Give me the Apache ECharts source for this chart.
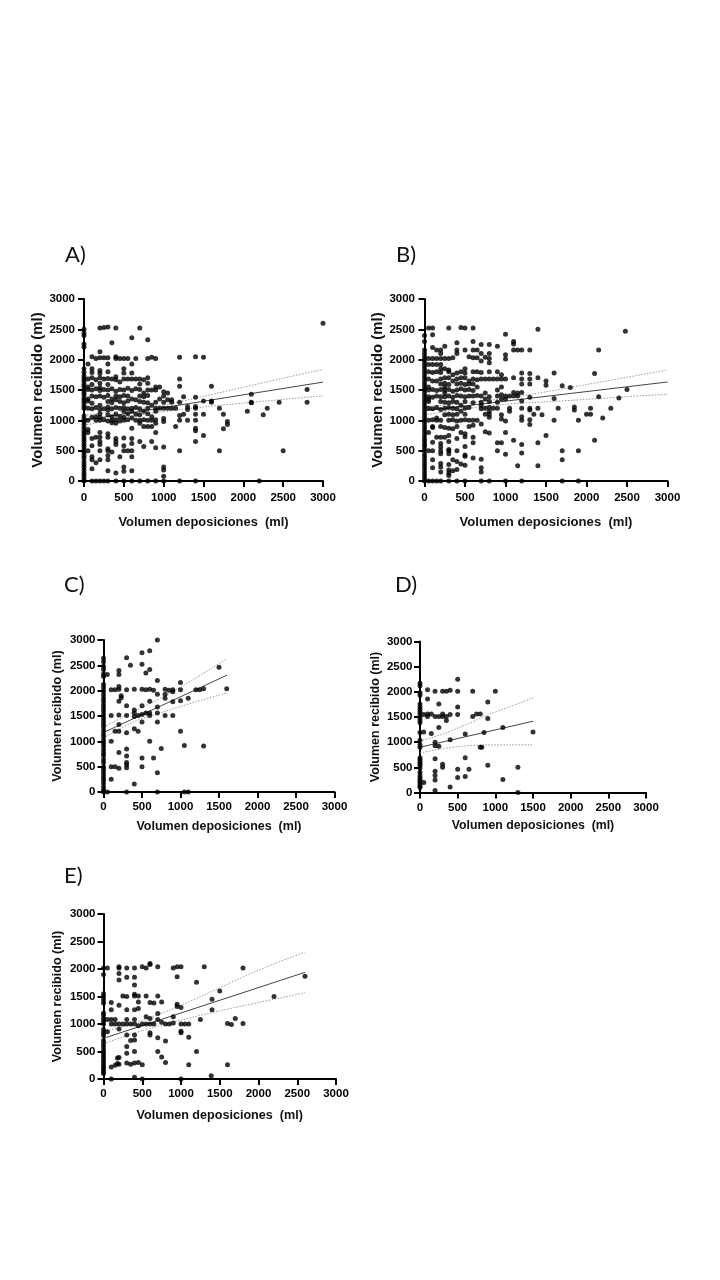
<!DOCTYPE html>
<html><head><meta charset="utf-8">
<style>html,body{margin:0;padding:0;background:#fff}#c{width:720px;height:1280px}</style>
<script src="https://cdn.jsdelivr.net/npm/echarts@6/dist/echarts.min.js"></script>
</head><body><div id="c"></div>
<script>
const tickMax = 3000, tickStep = 500;
const xTitle = 'Volumen deposiciones  (ml)';
const yTitle = 'Volumen recibido (ml)';

// Each row: [volumen deposiciones, [volumen recibido...]]
const columnsA = [
[0,[0,40,90,130,180,230,270,320,380,420,470,520,570,610,660,700,750,790,830,880,930,980,1020,1070,1200,1240,1290,1330,1370,1420,1460,1510,1560,1600,1650,1690,1730,1790,1850,2210,2260,2400,2440,2500]],
[50,[500,800,850,1000,1200,1320,1350,1510,1550,1680,1930]],
[100,[0,200,350,400,580,700,1050,1190,1280,1400,1500,1590,1700,1790,1850,2050]],
[150,[0,300,720,1000,1060,1210,1390,1520,1670,2020]],
[200,[0,350,500,600,650,720,800,1000,1050,1110,1180,1250,1400,1490,1540,1610,1700,1770,1820,2030,2130,2520]],
[250,[0,1010,1190,1380,1510,1680,2030,2530]],
[300,[0,170,350,420,500,530,720,780,990,1090,1170,1220,1310,1410,1500,1590,1690,1800,1930,2030,2540]],
[350,[480,960,1000,1060,1190,1290,1350,1520,1680,2280]],
[400,[0,130,600,650,700,950,1010,1100,1210,1340,1400,1480,1670,1720,2020,2050,2520]],
[450,[400,990,1060,1200,1310,1390,1510,1630,2020]],
[500,[0,160,230,500,580,710,1000,1050,1150,1210,1290,1410,1500,1680,1780,1850,2020]],
[550,[500,1010,1110,1190,1320,1400,1530,1680,2020]],
[600,[0,170,400,500,620,700,870,1040,1150,1200,1350,1490,1680,1780,1930,2360]],
[650,[1000,1100,1210,1340,1520,1680,2020]],
[700,[0,650,950,1000,1090,1190,1310,1400,1510,1600,1680,2520]],
[750,[570,900,1010,1150,1300,1390,1450,1670]],
[800,[0,900,1000,1110,1200,1290,1410,1500,1610,1700,2020,2330]],
[850,[650,900,1000,1060,1250,1500,2040]],
[900,[0,550,800,950,1010,1150,1200,1300,1500,1550,2020]],
[950,[1200,1350,1550]],
[1000,[0,80,180,230,560,980,1030,1200,1300,1400,1470]],
[1050,[1200,1340,1450]],
[1100,[1200,1300,1340]],
[1150,[900,1200]],
[1200,[0,500,1000,1080,1300,1560,1680,2040]],
[1250,[1100,1390]],
[1300,[1000,1180,1230]],
[1400,[0,650,830,870,1000,1100,1200,1230,1380,2050]],
[1500,[750,1100,1320,2040]],
[1600,[1300,1320,1560]],
[1700,[500,1200]],
[1750,[860,1100]],
[1800,[930,980]],
[2050,[1150]],
[2100,[1290,1300,1430]],
[2200,[0]],
[2250,[1090]],
[2300,[1200]],
[2450,[1300]],
[2500,[500]],
[2800,[1300,1510]],
[3000,[2600]]
];
const fitA = [[0,1000],[3000,1630]];
const upperA = [[0,1085],[500,1160],[1000,1250],[1500,1395],[2000,1545],[2500,1695],[3000,1840]];
const lowerA = [[0,915],[500,1050],[1000,1145],[1500,1220],[2000,1285],[2500,1345],[3000,1405]];

const columnsB = [
[0,[0,50,100,150,200,250,300,350,400,450,520,570,610,660,700,750,800,850,900,950,1000,1050,1100,1150,1200,1250,1300,1350,1400,1450,1500,1550,1600,1650,1700,1750,1800,1850,1900,1950,2000,2050,2100,2160,2300,2400]],
[50,[0,500,800,1000,1200,1310,1350,1390,1500,1550,1680,1800,1920,2020,2520]],
[100,[0,220,350,500,640,880,900,1010,1190,1380,1510,1650,1790,1920,2020,2200,2410,2520]],
[150,[0,720,1000,1040,1210,1400,1490,1650,1800,1920,2020,2160]],
[200,[0,150,230,290,450,500,560,620,720,900,1000,1180,1310,1390,1510,1600,1680,1790,1850,1920,2020,2100,2160]],
[250,[720,880,1090,1200,1300,1390,1450,1500,1550,1610,1700,1850,2020,2220]],
[300,[0,90,130,180,270,450,500,520,650,750,870,1000,1100,1210,1290,1400,1510,1590,1700,1800,1830,2020,2520]],
[350,[170,350,860,1010,1090,1200,1310,1380,1480,1650,1750,2030]],
[400,[0,190,320,500,700,900,990,1100,1190,1300,1410,1500,1600,1680,1780,2100,2160,2280]],
[450,[280,800,1000,1150,1250,1400,1520,1610,1700,1800,2530]],
[500,[0,260,410,430,570,730,780,1010,1100,1200,1310,1390,1500,1590,1700,1780,1850,2160,2520]],
[550,[900,1000,1210,1400,1510,1600,1650,2050]],
[600,[380,630,720,920,1000,1290,1400,1490,1600,1680,1800,2030,2160,2300,2520]],
[650,[1000,1410,1550,1670,1800,2030,2160]],
[700,[0,150,220,360,940,1190,1250,1300,1400,1680,1790,1980,2100,2250]],
[750,[810,1100,1200,1350,1450,1680,2040]],
[800,[0,790,1050,1100,1150,1210,1310,1390,1680,1800,1950,2020,2100,2250]],
[850,[1200,1680]],
[900,[500,630,1200,1300,1400,1500,1680,1800,2220]],
[950,[630,1020,1090,1350,1420,1550,1680,1750]],
[1000,[0,440,800,990,1350,1400,1680,2010,2080,2420]],
[1050,[1150,1200,1400]],
[1100,[670,1400,1460,1700,2160,2260,2300]],
[1150,[250,1400,1450,2160]],
[1200,[0,460,600,1000,1060,1200,1320,1460,1600,1680,1780,2160]],
[1300,[930,1010,1170,1200,1380,1600,1680,1770,2160]],
[1350,[1100]],
[1400,[250,630,1200,1700,2500]],
[1450,[1090]],
[1500,[750,1580,1650]],
[1600,[1000,1360,1780]],
[1650,[1200]],
[1700,[0,350,500,1570]],
[1800,[1540]],
[1850,[1170,1220]],
[1900,[0,500,1000]],
[2000,[1100]],
[2050,[1100,1200]],
[2100,[670,1770]],
[2150,[1390,2160]],
[2200,[1040]],
[2300,[1200]],
[2400,[1370]],
[2480,[2470]],
[2500,[1510]]
];
const fitB = [[0,1158],[3000,1632]];
const upperB = [[0,1225],[500,1280],[1000,1365],[1500,1470],[2000,1590],[2500,1710],[3000,1830]];
const lowerB = [[0,1090],[500,1190],[1000,1265],[1500,1305],[2000,1345],[2500,1390],[3000,1430]];

const columnsC = [
[0,[0,40,100,170,230,280,340,400,460,500,580,640,720,770,830,900,960,1020,1090,1150,1220,1290,1340,1400,1460,1530,1600,1660,1720,1790,1850,1920,1990,2060,2120,2280,2330,2420,2480,2570,2640]],
[50,[0,2320]],
[100,[250,500,1000,1510,2020]],
[150,[500,1200,2020]],
[200,[470,780,1200,1330,1520,1790,2030,2080,2320,2400]],
[230,[1860,1900]],
[300,[0,480,540,580,710,850,1170,1510,1700,2020,2650]],
[350,[2500]],
[400,[160,1250,1490,1560,1620,2030]],
[450,[1200,1510]],
[500,[500,670,1380,1530,1700,2030,2520,2750]],
[550,[1560,2020,2350]],
[600,[1000,1510,1560,1790,2030,2420,2790]],
[650,[670,2010]],
[700,[0,380,1380,1560,1680,1930,2200,3000]],
[750,[860]],
[800,[1510,1850,1930,2030]],
[850,[2010]],
[900,[1510,1780,1980,2020]],
[1000,[1200,1800,2020,2160]],
[1050,[0,920]],
[1100,[0,1850]],
[1200,[2020]],
[1250,[2020]],
[1300,[910,2040]],
[1500,[2460]],
[1600,[2040]]
];
const fitC = [[0,1174],[1607,2308]];
const upperC = [[0,1285],[400,1590],[800,1900],[1200,2250],[1607,2637]];
const lowerC = [[0,1070],[400,1390],[800,1590],[1200,1780],[1607,1958]];

const columnsD = [
[0,[100,130,170,210,250,290,340,400,480,530,570,610,650,690,900,950,1040,1190,1390,1440,1490,1550,1600,1650,1700,1760,1930,1980,2120,2170]],
[50,[200,1200,1550]],
[100,[1510,1560,1860,2040]],
[150,[1170,1560]],
[200,[40,250,340,420,670,930,1000,1510,2010]],
[250,[920,1290,1510,1760]],
[300,[500,560,1510,1560,2010]],
[350,[1430,1510,2010]],
[400,[110,1050,1550,2030]],
[500,[300,460,1550,1700,2010,2250]],
[600,[320,690,1160]],
[650,[460]],
[700,[1510,2010]],
[750,[1560]],
[800,[900,1560]],
[820,[900]],
[850,[1190]],
[900,[540,1470,1800]],
[1000,[2010]],
[1100,[260,1290]],
[1300,[0,500]],
[1500,[1200]]
];
const fitD = [[0,900],[1504,1417]];
const upperD = [[0,1020],[300,1160],[600,1340],[900,1540],[1200,1710],[1504,1880]];
const lowerD = [[0,785],[300,870],[600,925],[900,945],[1200,945],[1504,947]];

const columnsE = [
[0,[100,130,170,210,250,300,340,390,440,480,530,590,640,700,790,840,900,1000,1050,1100,1160,1200,1380,1440,1500,1550,1900,2020]],
[50,[860,1080,2020]],
[100,[0,220,1000,1080,1260,1390]],
[150,[250,1000,1080]],
[180,[280,380]],
[200,[270,390,910,1000,1340,1800,1920,2020,2040]],
[250,[1000,1510]],
[300,[290,470,590,800,1000,1080,1260,1500,1850,2020]],
[350,[270,700,1000]],
[400,[30,290,500,710,800,1000,1080,1260,1510,1540,1710,1850,2020]],
[450,[300,970,1280,1400,1510]],
[500,[0,260,1000,2040]],
[550,[1000,1130,1510,2020]],
[600,[800,840,1000,1100,1390,2080,2100]],
[650,[1000,1380]],
[700,[500,750,1080,1190,1510,2040]],
[750,[400,1030,1400]],
[800,[300,690,1000]],
[850,[1000]],
[900,[1020,1130,2020]],
[950,[1320,1360,1860,2040]],
[1000,[0,840,870,1000,1300,2040]],
[1050,[1000]],
[1100,[260,760,1000]],
[1200,[500,1760]],
[1250,[1080]],
[1300,[2040]],
[1390,[60]],
[1400,[1260,1450]],
[1500,[1600]],
[1600,[260,1010]],
[1650,[990]],
[1700,[1100]],
[1800,[1010,2020]],
[2200,[1500]],
[2600,[1870]]
];
const fitE = [[0,739],[2600,1939]];
const upperE = [[0,860],[500,1060],[1000,1340],[1500,1660],[2000,1980],[2600,2309]];
const lowerE = [[0,640],[500,880],[1000,1070],[1500,1240],[2000,1390],[2600,1570]];

const panelLabels = ['A)','B)','C)','D)','E)'];
const panelColumns = [columnsA,columnsB,columnsC,columnsD,columnsE];
const panelFit = [fitA,fitB,fitC,fitD,fitE];
const panelUpper = [upperA,upperB,upperC,upperD,upperE];
const panelLower = [lowerA,lowerB,lowerC,lowerD,lowerE];

// layout (pixels)
const grids = [
 {left:84,  top:299, width:239, height:182, xName:12.9, yName:14.9, xGap:34.5, yGap:38.5, xm:10.5, ym:9, lx:65, ly:244},
 {left:424.5,top:299,width:243, height:182, xName:13.1, yName:14.9, xGap:34.5, yGap:39, xm:10.5, ym:9.5, lx:396,ly:244},
 {left:103.5,top:640,width:231, height:152, xName:12.5, yName:12.6, xGap:28, yGap:39, xm:8.5, ym:8, lx:64, ly:574},
 {left:420, top:641.5,width:226,height:151, xName:12.3, yName:12.5, xGap:27.5, yGap:38, xm:9, ym:7.5, lx:395,ly:574},
 {left:103.5,top:914,width:232.5,height:165, xName:12.6, yName:12.6, xGap:30, yGap:39.5, xm:9, ym:8, lx:64, ly:865}
];

const flat = cols => cols.flatMap(([x,ys]) => ys.map(y => [x,y]));
const option = {animation:false,backgroundColor:'#fff',
 title:[],grid:[],xAxis:[],yAxis:[],series:[]};
const font = '"Liberation Sans",Arial,sans-serif';
const plain = v => String(v);
grids.forEach((g,i)=>{
 option.title.push({text:panelLabels[i],left:g.lx,top:g.ly,padding:0,
   textStyle:{fontFamily:'Lato,sans-serif',fontSize:22,fontWeight:'normal',color:'#111'}});
 option.grid.push({left:g.left,top:g.top,width:g.width,height:g.height,containLabel:false});
 const ax = {min:0,max:tickMax,interval:tickStep,gridIndex:i,type:'value',
   splitLine:{show:false},nameLocation:'middle',
   axisLine:{show:true,onZero:false,lineStyle:{color:'#000',width:2}},
   axisTick:{show:true,length:6,lineStyle:{color:'#000',width:2}},
   axisLabel:{color:'#000',fontFamily:font,fontWeight:'bold',fontSize:11.5,formatter:plain}};
 option.xAxis.push({...ax,name:xTitle,nameGap:g.xGap,axisLabel:{...ax.axisLabel,margin:g.xm},
   nameTextStyle:{color:'#111',fontFamily:font,fontWeight:'bold',fontSize:g.xName}});
 option.yAxis.push({...ax,name:yTitle,nameGap:g.yGap,axisLabel:{...ax.axisLabel,margin:g.ym},
   nameTextStyle:{color:'#111',fontFamily:font,fontWeight:'bold',fontSize:g.yName}});
 const base = {xAxisIndex:i,yAxisIndex:i,type:'line',showSymbol:false,symbol:'none',silent:true};
 const ci = {color:'#999',width:1,type:[1.5,1.5]};
 option.series.push({...base,data:panelUpper[i],smooth:0.3,z:3,lineStyle:ci});
 option.series.push({...base,data:panelLower[i],smooth:0.3,z:3,lineStyle:ci});
 option.series.push({...base,data:panelFit[i],z:3,lineStyle:{color:'#444',width:1}});
 option.series.push({xAxisIndex:i,yAxisIndex:i,type:'scatter',data:flat(panelColumns[i]),
   symbol:'circle',symbolSize:5,clip:false,z:4,itemStyle:{color:'#000'},silent:true});
});
echarts.init(document.getElementById('c'),null,{renderer:'canvas'}).setOption(option);
</script></body></html>
